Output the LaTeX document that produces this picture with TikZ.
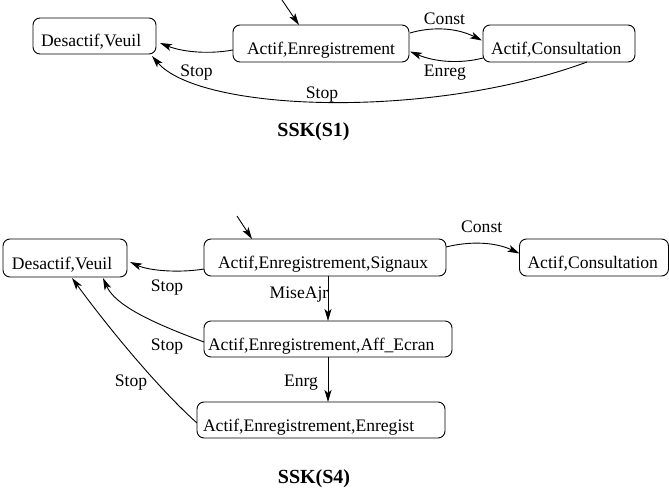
\documentclass[tikz,border=0pt]{standalone}
\usepackage{fontspec}
\setmainfont{Liberation Serif}
\usetikzlibrary{arrows.meta,calc}

\tikzset{
  state/.style={draw, rounded corners=7pt, line width=0.9pt, outer sep=0pt,
    inner ysep=0pt, align=left, text height=24pt, text depth=2pt,
    font=\fontsize{17.6pt}{20pt}\selectfont},
  lbl/.style={anchor=base, inner sep=0pt, font=\fontsize{17.6pt}{20pt}\selectfont},
  title/.style={anchor=base, inner sep=0pt, font=\fontsize{20pt}{24pt}\selectfont\bfseries},
  trans/.style={line width=0.9pt, -{Stealth[length=12pt,width=7pt,inset=3pt]}}
}

\begin{document}
\begin{tikzpicture}[x=1pt,y=-1pt]
\useasboundingbox (0,0) rectangle (669,495);

% ---------- SSK(S1) ----------
\node[state, minimum width=123pt, minimum height=36pt, inner xsep=8pt, text width=107pt]
  (D1) at (94.5,36) {Desactif,Veuil};
\node[state, minimum width=176pt, minimum height=37pt, inner xsep=14pt, text width=148pt]
  (E1) at (321,43.5) {Actif,Enregistrement};
\node[state, minimum width=152pt, minimum height=37pt, inner xsep=8pt, text width=136pt]
  (C1) at (559,43.5) {Actif,Consultation};

\coordinate (i1) at (282,0);
\draw[trans] (i1) -- ($(E1.north)+(-22,0)$);

\draw[trans] ($(E1.west)+(0,6.5)$) .. controls (205,55) and (180,51) .. ($(D1.east)+(4,7)$);
\draw[trans] ($(C1.south)+(28,0)$) .. controls (430,120) and (200,112) .. ($(D1.south east)+(-4,2)$);
\draw[trans] ($(E1.east)+(1,-10.5)$) .. controls (430,27) and (455,27) .. ($(C1.west)+(-1,-3)$);
\draw[trans] ($(C1.west)+(0,14.5)$) .. controls (460,64) and (435,62) .. ($(E1.east)+(1,8)$);

\node[lbl] (l1const) at (444.5,25) {Const};
\node[lbl] (l1enreg) at (445,76.5) {Enreg};
\node[lbl] (l1stopa) at (196.5,77) {Stop};
\node[lbl] (l1stopb) at (322,99) {Stop};
\node[title] (t1) at (313.5,136) {SSK(S1)};

% ---------- SSK(S4) ----------
\node[state, minimum width=124pt, minimum height=38pt, inner xsep=9pt, text width=106pt]
  (D4) at (65,258) {Desactif,Veuil};
\node[state, minimum width=242pt, minimum height=37pt, inner xsep=14pt, text width=214pt]
  (S4) at (325,257.5) {Actif,Enregistrement,Signaux};
\node[state, minimum width=149pt, minimum height=37pt, inner xsep=8pt, text width=133pt]
  (C4) at (594,257.5) {Actif,Consultation};
\node[state, minimum width=248pt, minimum height=36pt, inner xsep=4pt, text width=240pt]
  (Aff) at (328,339) {Actif,Enregistrement,Aff\_Ecran};
\node[state, minimum width=248pt, minimum height=36pt, inner xsep=6pt, text width=236pt]
  (Enr) at (321,420) {Actif,Enregistrement,Enregist};

\coordinate (i4) at (237,216);
\draw[trans] (i4) -- ($(S4.north)+(-73,0)$);

\draw[trans] ($(S4.west)+(0,11.5)$) .. controls (180,273) and (150,271) .. ($(D4.east)+(3,4)$);
\draw[trans] ($(Aff.west)+(0,3)$) .. controls (150,322) and (115,305) .. ($(D4.south east)+(-24,1)$);
\draw[trans] ($(Enr.west)+(0,3)$) .. controls (160,390) and (110,330) .. ($(D4.south)+(7,1)$);
\draw[trans] ($(S4.south)+(3,0)$) -- (Aff.north);
\draw[trans] (Aff.south) -- ($(Enr.north)+(7,0)$);
\draw[trans] ($(S4.east)+(0,-10.5)$) .. controls (470,241) and (495,242) .. ($(C4.west)+(0,-4)$);

\node[lbl] (l4const) at (481.7,232.3) {Const};
\node[lbl] (l4stopa) at (167,291) {Stop};
\node[lbl] (l4mise) at (299,298.3) {MiseAjr};
\node[lbl] (l4stopb) at (167,350) {Stop};
\node[lbl] (l4enrg) at (301,386.6) {Enrg};
\node[lbl] (l4stopc) at (131,386.6) {Stop};
\node[title] (t4) at (314,483) {SSK(S4)};
\end{tikzpicture}
\end{document}
